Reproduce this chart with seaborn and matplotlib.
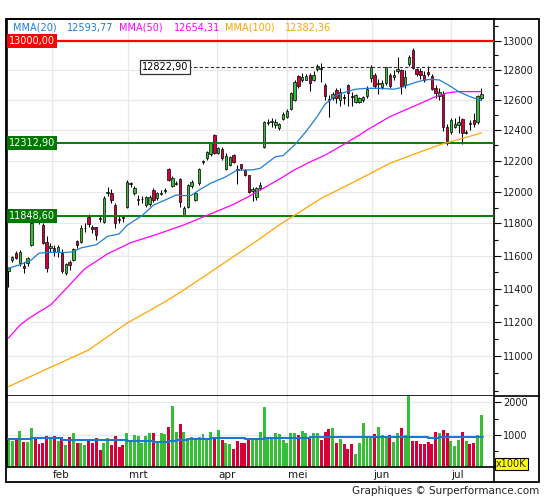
import numpy as np
import pandas as pd
import matplotlib
matplotlib.use("Agg")
import matplotlib.pyplot as plt
import matplotlib.transforms as mtransforms
from matplotlib.patches import Rectangle
from matplotlib.lines import Line2D
from matplotlib.ticker import FixedLocator, NullFormatter, FuncFormatter
import seaborn as sns

# daily candles, mid January -> mid July (bar index 0..124)
opens = [
    11508, 11575, 11616, 11556, 11535, 11556, 11668, 11860, 11820, 11791, 11682,
    11650, 11648, 11620, 11616, 11492, 11560, 11572, 11694, 11687, 11770,
    11840, 11775, 11775, 11832, 11812, 11990, 11995, 11915, 11830, 11838,
    11905, 12050, 11990, 11950, 11952, 11915, 11920, 12013, 11958, 11988,
    12005, 12143, 12039, 12052, 12080, 11855, 11905, 12036, 11950, 12054,
    12190, 12215, 12240, 12368, 12252, 12274, 12143, 12171, 12237, 12145,
    12175, 12139, 12107, 12005, 11968, 12022, 12290, 12448, 12455, 12430,
    12415, 12472, 12485, 12537, 12600, 12761, 12735, 12735, 12766, 12730,
    12808, 12812, 12698, 12605, 12610, 12665, 12598, 12615, 12695, 12625,
    12587, 12587, 12600, 12625, 12743, 12766, 12705, 12685, 12710, 12764,
    12750, 12795, 12800, 12700, 12840, 12936, 12806, 12795, 12764, 12788,
    12760, 12680, 12625, 12640, 12420, 12388, 12420, 12430, 12470, 12380,
    12447, 12465, 12450, 12610]
highs = [
    11530, 11600, 11630, 11635, 11560, 11590, 11810, 11880, 11835, 11800, 11720,
    11680, 11665, 11665, 11640, 11555, 11575, 11650, 11700, 11790, 11800,
    11860, 11790, 11780, 11850, 11970, 12031, 12020, 11930, 11850, 11855,
    12075, 12064, 12035, 11980, 11975, 11975, 11980, 12022, 12000, 12010,
    12025, 12150, 12100, 12070, 12088, 11910, 12050, 12075, 11998, 12150,
    12205, 12265, 12320, 12375, 12290, 12285, 12248, 12230, 12245, 12171,
    12180, 12145, 12110, 12030, 12030, 12060, 12458, 12470, 12480, 12470,
    12445, 12515, 12535, 12650, 12730, 12765, 12780, 12775, 12780, 12790,
    12840, 12845, 12710, 12630, 12650, 12680, 12680, 12640, 12705, 12650,
    12640, 12620, 12625, 12690, 12835, 12780, 12740, 12730, 12820, 12780,
    12800, 12885, 12805, 12800, 12900, 12951, 12815, 12810, 12790, 12830,
    12770, 12700, 12680, 12660, 12440, 12480, 12480, 12490, 12480, 12400,
    12465, 12510, 12630, 12675]
lows = [
    11412, 11560, 11580, 11540, 11497, 11540, 11660, 11830, 11795, 11670, 11500,
    11620, 11600, 11595, 11495, 11480, 11510, 11565, 11650, 11680, 11745,
    11780, 11740, 11697, 11810, 11805, 11975, 11930, 11770, 11800, 11810,
    11895, 12030, 11980, 11915, 11930, 11905, 11910, 11936, 11950, 11980,
    11990, 12070, 12030, 12040, 11905, 11850, 11895, 12025, 11940, 12040,
    12180, 12205, 12230, 12245, 12245, 12205, 12139, 12165, 12185, 12048,
    12140, 12100, 11990, 11940, 11950, 12010, 12282, 12435, 12420, 12415,
    12400, 12465, 12480, 12530, 12590, 12680, 12720, 12730, 12660, 12725,
    12790, 12720, 12600, 12487, 12595, 12580, 12560, 12570, 12560, 12560,
    12580, 12575, 12585, 12610, 12720, 12680, 12640, 12670, 12700, 12680,
    12735, 12780, 12640, 12680, 12830, 12805, 12760, 12740, 12720, 12760,
    12665, 12610, 12600, 12390, 12300, 12375, 12410, 12380, 12310, 12370,
    12400, 12420, 12440, 12600]
closes = [
    11527, 11590, 11588, 11620, 11527, 11588, 11801, 11849, 11814, 11680, 11527,
    11662, 11627, 11651, 11509, 11549, 11543, 11643, 11666, 11774, 11774,
    11795, 11765, 11730, 11828, 11958, 11998, 11947, 11804, 11822, 11834,
    12064, 12056, 12022, 11954, 11956, 11968, 11968, 11950, 11995, 11992,
    12010, 12075, 12090, 12056, 11936, 11899, 12043, 12064, 11990, 12143,
    12195, 12258, 12313, 12252, 12280, 12215, 12230, 12220, 12193, 12139,
    12150, 12107, 12000, 12016, 12022, 12043, 12452, 12455, 12460, 12450,
    12437, 12505, 12525, 12642, 12720, 12690, 12752, 12760, 12712, 12768,
    12828, 12806, 12627, 12595, 12636, 12612, 12654, 12610, 12642, 12620,
    12631, 12610, 12615, 12670, 12823, 12690, 12712, 12715, 12817, 12690,
    12766, 12806, 12692, 12752, 12889, 12814, 12775, 12765, 12733, 12770,
    12672, 12647, 12650, 12416, 12325, 12465, 12440, 12453, 12381, 12389,
    12440, 12437, 12627, 12641]
# volume in units of 100K
volumes = [
    869, 818, 909, 1121, 788, 788, 1212, 889, 727, 758, 970,
    939, 970, 818, 939, 697, 939, 1061, 758, 758, 697,
    848, 758, 909, 545, 758, 909, 697, 970, 636, 697,
    1061, 818, 1000, 970, 758, 970, 1061, 1061, 788, 1061,
    1030, 1242, 1879, 1091, 1333, 1091, 889, 939, 889, 939,
    1030, 889, 1091, 909, 1152, 848, 758, 727, 576, 818,
    758, 758, 859, 828, 828, 1071, 1859, 909, 909, 1040,
    1010, 848, 758, 1051, 1051, 980, 1121, 1051, 929, 1040,
    1051, 848, 1071, 1182, 1222, 747, 879, 727, 576, 727,
    424, 747, 1374, 889, 889, 1010, 1253, 980, 949, 980,
    778, 1051, 1222, 1000, 2300, 808, 808, 727, 727, 778,
    727, 1101, 1051, 1162, 1040, 808, 657, 828, 1101, 808,
    727, 758, 980, 1616]

# moving averages (bar index -> value)
ma20_x = [0, 3, 6, 8, 11, 15, 17, 19, 23, 26, 29, 31, 35, 38, 41, 44, 46, 48, 50, 53,
          57, 60, 62, 64, 66, 70, 72, 75, 78, 81, 83, 86, 89, 91, 94, 97, 101, 103,
          106, 109, 111, 113, 116, 118, 121, 124]
ma20_v = [11523, 11545, 11575, 11616, 11621, 11620, 11625, 11648, 11668, 11720, 11735,
          11787, 11849, 11915, 11947, 11980, 11975, 11978, 12011, 12054, 12096, 12139,
          12139, 12140, 12150, 12225, 12232, 12301, 12389, 12490, 12570, 12631, 12656,
          12670, 12676, 12676, 12670, 12681, 12710, 12732, 12736, 12732, 12688, 12654,
          12620, 12594]
ma50_x = [0, 3, 5, 8, 11, 15, 20, 26, 32, 39, 46, 52, 59, 63, 67, 71, 75, 79, 83, 88,
          92, 94, 100, 106, 112, 115, 118, 124]
ma50_v = [11105, 11181, 11216, 11260, 11300, 11397, 11520, 11612, 11680, 11733, 11791,
          11850, 11920, 11970, 12025, 12080, 12140, 12190, 12235, 12306, 12366, 12399,
          12487, 12553, 12620, 12645, 12654, 12654]
ma100_x = [0, 11, 21, 31, 41, 46, 53, 59, 65, 71, 82, 92, 100, 109, 114, 118, 124]
ma100_v = [10823, 10934, 11035, 11192, 11320, 11392, 11500, 11595, 11690, 11791, 11958,
           12080, 12182, 12266, 12310, 12336, 12380]
vol_ma_x = [0, 6, 14, 31, 38, 42, 44, 47, 53, 62, 67, 79, 110, 113, 124.5]
vol_ma_v = [869, 899, 838, 808, 778, 808, 838, 869, 899, 869, 909, 939, 909, 939, 939]

months = ["feb", "mrt", "apr", "mei", "jun", "jul"]
month_pos = [11.3, 31.4, 54.7, 72.9, 95.2, 115.9]
price_ticks = list(range(11000, 13001, 200))
price_minor = [v for v in range(10800, 13101, 100) if v not in price_ticks]
levels = [13000.00, 12312.90, 11848.60]
dashed_level = 12822.90
legend = [("MMA(20)", "12593,77", "#1e7fd6"),
          ("MMA(50)", "12654,31", "#ff00ff"),
          ("MMA(100)", "12382,36", "#ffa500")]

GREEN = "#36bf36"
RED = "#d4003a"

sns.set_theme(style="white")
plt.rcParams["font.family"] = ["DejaVu Sans"]

W, H = 545, 500
fig = plt.figure(figsize=(W / 100, H / 100), dpi=100)


def fx(p):
    return p / W


def fy(p):
    return 1 - p / H


L, R = 6.5, 494
ax = fig.add_axes([fx(L), fy(395.7), fx(R) - fx(L), fy(19.3) - fy(395.7)])
axv = fig.add_axes([fx(L), fy(467.3), fx(R) - fx(L), fy(395.7) - fy(467.3)], sharex=ax)

df = pd.DataFrame({"x": np.arange(len(closes)), "o": opens, "h": highs,
                   "l": lows, "c": closes, "v": volumes})
cols = np.where(df.c >= df.o, GREEN, RED)

# ---- price panel
ax.set_yscale("log")
ax.set_ylim(10771, 13148)
ax.set_xlim(-0.52, 127.3)
ax.set_axisbelow(True)
ax.yaxis.set_major_locator(FixedLocator(price_ticks))
ax.yaxis.set_minor_locator(FixedLocator(price_minor))
ax.yaxis.set_major_formatter(FuncFormatter(lambda v, p: f"{v:.0f}"))
ax.yaxis.set_minor_formatter(NullFormatter())
ax.yaxis.tick_right()
ax.tick_params(axis="y", which="major", length=5, width=0.8, labelsize=7,
               pad=1.5, color="black", labelcolor="#1a1a1a")
ax.tick_params(axis="y", which="minor", length=3, width=0.8, color="black")
ax.set_xticks(month_pos)
ax.tick_params(axis="x", length=0, labelbottom=False)
ax.grid(True, which="major", color="#e8e8e8", lw=0.9)
for s in ax.spines.values():
    s.set_color("black")
    s.set_linewidth(1.2)

ax.vlines(df.x, df.l, df.h, color="black", lw=0.75, zorder=2)
ax.bar(df.x, (df.c - df.o).abs().clip(lower=1), bottom=np.minimum(df.o, df.c),
       width=0.62, color=cols, edgecolor="black", linewidth=0.5, zorder=3)

ax.axhline(levels[0], color="#ff0000", lw=1.6, zorder=4)
ax.axhline(levels[1], color="#008000", lw=1.4, zorder=4)
ax.axhline(levels[2], color="#008000", lw=1.4, zorder=4)
ax.axhline(dashed_level, xmin=0.372, xmax=1, color="#333333", lw=0.8,
           ls=(0, (3, 2)), zorder=4)

sns.lineplot(x=ma100_x, y=ma100_v, ax=ax, color="#ffa500", lw=0.9, zorder=5)
sns.lineplot(x=ma50_x, y=ma50_v, ax=ax, color="#ff00ff", lw=0.9, zorder=5)
sns.lineplot(x=ma20_x, y=ma20_v, ax=ax, color="#1e7fd6", lw=0.9, zorder=5)
ax.set_xlabel("")
ax.set_ylabel("")

ytr = ax.get_yaxis_transform()
ax.text(0.005, levels[0], "13000,00", transform=ytr, ha="left", va="center",
        color="white", fontsize=7,
        bbox=dict(boxstyle="square,pad=0.2", fc="#ff0000", ec="none"), zorder=6)
for lv, txt in [(levels[1], "12312,90"), (levels[2], "11848,60")]:
    ax.text(0.005, lv, txt, transform=ytr, ha="left", va="center",
            color="white", fontsize=7,
            bbox=dict(boxstyle="square,pad=0.2", fc="#007800", ec="none"), zorder=6)
ax.text(0.277, dashed_level, "12822,90", transform=ytr, ha="left", va="center",
        color="black", fontsize=7,
        bbox=dict(boxstyle="square,pad=0.2", fc="white", ec="#333333", lw=0.9), zorder=6)

# legend line at the top
lx = [13.2, 67, 119.2, 173.5, 225, 285]
for i, (name, val, c) in enumerate(legend):
    fig.text(fx(lx[2 * i]), fy(28), name, color=c, fontsize=7, va="center")
    fig.text(fx(lx[2 * i + 1]), fy(28), val, color=c, fontsize=7, va="center")

# ---- volume panel
axv.set_axisbelow(True)
axv.bar(df.x, df.v, width=0.78, color=cols, linewidth=0, zorder=2)
sns.lineplot(x=vol_ma_x, y=vol_ma_v, ax=axv, color="#1a78d4", lw=1.5,
             drawstyle="steps-post", zorder=3)
axv.set_ylim(0, 2203)
axv.yaxis.set_major_locator(FixedLocator([1000, 2000]))
axv.yaxis.set_minor_locator(FixedLocator([500, 1500]))
axv.yaxis.set_minor_formatter(NullFormatter())
axv.yaxis.tick_right()
axv.tick_params(axis="y", which="major", length=5, width=0.8, labelsize=7,
                pad=1.5, color="black", labelcolor="#1a1a1a")
axv.tick_params(axis="y", which="minor", length=3, width=0.8, color="black")
axv.set_xticks(month_pos)
axv.tick_params(axis="x", length=0, labelbottom=False)
axv.grid(True, which="major", color="#e8e8e8", lw=0.9)
axv.set_xlabel("")
axv.set_ylabel("")
for s in axv.spines.values():
    s.set_color("black")
    s.set_linewidth(1.2)
axv.spines["top"].set_visible(False)

btr = mtransforms.blended_transform_factory(axv.transData, fig.transFigure)
for m, name in zip(month_pos, months):
    axv.text(m + 0.3, fy(474.5), name, transform=btr, ha="left", va="center",
             fontsize=7.5, color="#1a1a1a")

# ---- frame and extras
fig.add_artist(Rectangle((fx(6.3), fy(482.3)), fx(539) - fx(6.3), fy(19.3) - fy(482.3),
                         transform=fig.transFigure, fill=False, ec="black", lw=1.3))
fig.add_artist(Line2D([fx(494), fx(539)], [fy(395.7), fy(395.7)], color="black", lw=1.2))
fig.add_artist(Line2D([fx(494), fx(494)], [fy(467.3), fy(482.3)], color="black", lw=1.2))
fig.text(fx(496), fy(464), "x100K", fontsize=7, ha="left", va="center",
         bbox=dict(boxstyle="square,pad=0.12", fc="#ffff00", ec="black", lw=0.8))
fig.text(fx(539), fy(491), "Graphiques \u00a9 Surperformance.com", ha="right",
         va="center", fontsize=7.5, color="#222222")

fig.savefig("out.png", dpi=100)
